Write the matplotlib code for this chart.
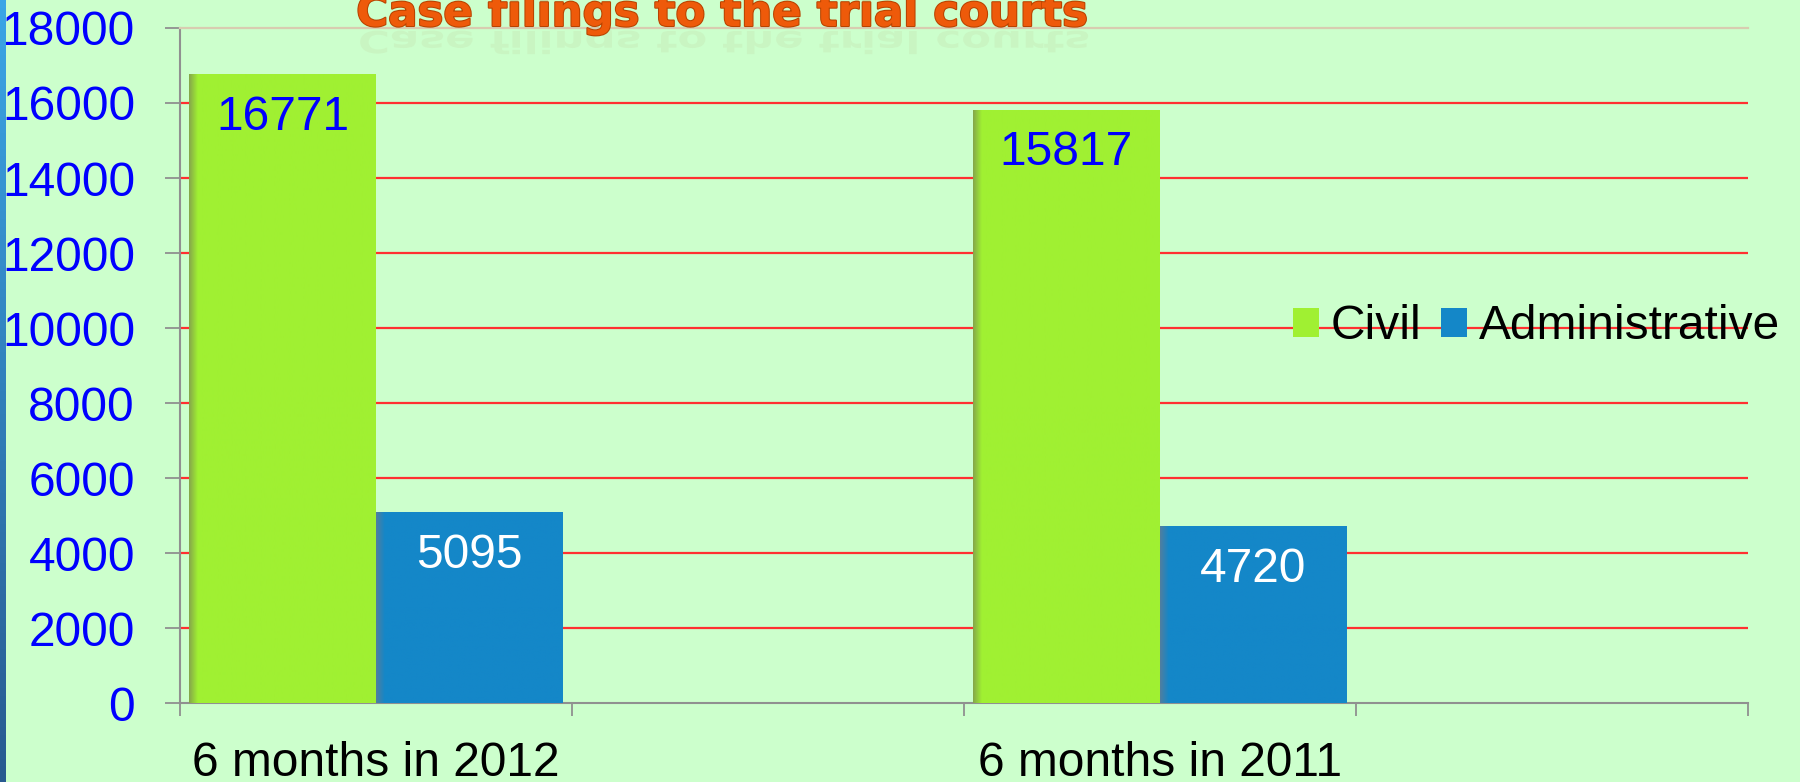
""" Case filings to the trial courts - bar chart """
import numpy as np
import matplotlib
matplotlib.use("Agg")
import matplotlib.pyplot as plt
from matplotlib.colors import to_rgb
from matplotlib.textpath import TextPath
from matplotlib.font_manager import FontProperties
from matplotlib.patches import PathPatch
from matplotlib.transforms import Affine2D
import matplotlib.patheffects as pe

# Donnees
periods = ["6 months in 2012", "6 months in 2011"]
civil = [16771, 15817]
administrative = [5095, 4720]
series_names = ["Civil", "Administrative"]
y_ticks = list(range(0, 18001, 2000))
title = "Case filings to the trial courts"

# Couleurs
bg = "#CCFFCC"
green = "#A0F032"
blue_bar = "#1487C8"
label_blue = "#0000FF"
grid_red = "#FF3030"

plt.rcParams['font.family'] = ['Liberation Sans', 'DejaVu Sans']
fs = 34.5

fig = plt.figure(figsize=(18, 7.82), dpi=100, facecolor=bg)
ax = fig.add_axes([0.1, 0.101, 0.8711, 0.8632])
ax.set_facecolor(bg)

# positions: une categorie vide apres chaque periode
x = np.arange(len(periods)) * 2
w = 0.477
b1 = ax.bar(x - w / 2, civil, w, color=green, label=series_names[0], zorder=3)
b2 = ax.bar(x + w / 2, administrative, w, color=blue_bar, label=series_names[1], zorder=3)


def shade(bars, base, dark):
    # ombre douce sur le bord gauche des barres
    t = np.linspace(0, 1, 200)
    k = np.clip(t / 0.045, 0, 1)[None, :, None]
    img = np.array(dark)[None, None, :] * (1 - k) + np.array(base)[None, None, :] * k
    for p in bars:
        x0, y0 = p.get_x(), p.get_y()
        im = ax.imshow(img, extent=(x0, x0 + p.get_width(), y0, y0 + p.get_height()),
                       aspect='auto', zorder=3.5, interpolation='bilinear')
        im.set_clip_path(p)


shade(b1, to_rgb(green), to_rgb("#86A84A"))
shade(b2, to_rgb(blue_bar), to_rgb("#4F7EA0"))

# etiquettes de valeur
for p, v in zip(b1, civil):
    ax.annotate(str(v), (p.get_x() + p.get_width() / 2, v), xytext=(0, -31),
                textcoords='offset points', ha='center', va='center',
                fontsize=fs, color=label_blue, zorder=5)
for p, v in zip(b2, administrative):
    ax.annotate(str(v), (p.get_x() + p.get_width() / 2, v), xytext=(0, -31),
                textcoords='offset points', ha='center', va='center',
                fontsize=fs, color='white', zorder=5)

ax.set_xlim(-0.5, 2 * len(periods) - 0.5)
ax.set_ylim(0, 18000)
ax.set_yticks(y_ticks)
ax.set_yticklabels([str(t) for t in y_ticks])

# quadrillage rouge
for t in y_ticks[1:-1]:
    ax.axhline(t, color=grid_red, lw=1.6, zorder=1)

ax.set_xticks(np.arange(-0.5, 2 * len(periods), 1))
ax.set_xticklabels([])
ax.set_xticks(x, minor=True)
ax.set_xticklabels(periods, minor=True)

ax.tick_params(axis='y', length=10.8, width=1.3, color='#909090', pad=21.6,
               labelsize=fs, labelcolor=label_blue)
ax.tick_params(axis='x', which='major', length=9.5, width=1.3, color='#909090')
ax.tick_params(axis='x', which='minor', length=0, pad=27, labelsize=fs, labelcolor='black')

for s in ['left', 'bottom']:
    ax.spines[s].set_color('#909090')
    ax.spines[s].set_linewidth(1.5)
ax.spines['right'].set_visible(False)
ax.spines['top'].set_color('#D8CCB0')
ax.spines['top'].set_linewidth(1.6)

ax.legend(loc='center right', bbox_to_anchor=(1780 / 1800, 0.582),
          bbox_transform=fig.transFigure, ncol=2, frameon=False, fontsize=fs,
          handlelength=0.54, handleheight=0.54, handletextpad=0.25,
          columnspacing=0.4, borderpad=0, borderaxespad=0)

# titre (coupe en haut, comme sur la diapo) + reflet
tprop = FontProperties(family='DejaVu Sans', weight='bold', size=31.3)
fig.text(722 / 1800, 756 / 782, title, ha='center', va='baseline',
         fontproperties=tprop, color='#EE5A0A',
         path_effects=[pe.withStroke(linewidth=1.5, foreground='#B84300')])
tp = TextPath((0, 0), title, prop=FontProperties(family='DejaVu Sans', weight='bold'), size=43.5)
tw = tp.get_extents().width
refl = PathPatch(tp, transform=Affine2D().scale(1, -0.7).translate(722 - tw / 2, 751),
                 color='#B08050', alpha=0.08, lw=0)
fig.add_artist(refl)

# bande bleue a gauche
strip = fig.add_axes([0, 0, 6 / 1800, 1])
grad = np.linspace(0, 1, 100)[:, None, None]
c_top, c_bot = np.array(to_rgb("#3AA6E6")), np.array(to_rgb("#285A90"))
strip.imshow(c_top * (1 - grad) + c_bot * grad, aspect='auto')
strip.axis('off')

plt.savefig('out.png', dpi=100, facecolor=bg)
